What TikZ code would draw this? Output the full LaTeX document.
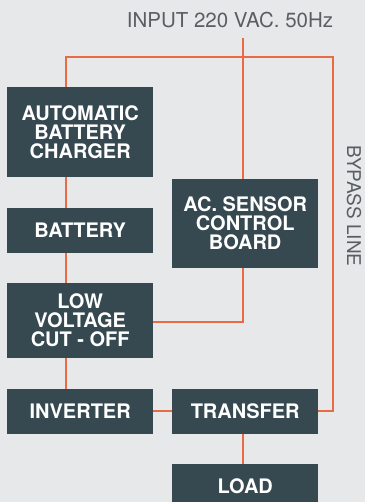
\documentclass[tikz,border=0pt]{standalone}
\usepackage{fontspec}
\setmainfont{TeX Gyre Heros}
\definecolor{bgc}{HTML}{E7E8EA}
\definecolor{boxc}{HTML}{364950}
\definecolor{linec}{HTML}{EA6A45}
\definecolor{txtc}{HTML}{5A5E62}
\begin{document}
\begin{tikzpicture}[x=1pt,y=-1pt,
  blk/.style={fill=boxc,text=white,font=\bfseries\fontsize{20}{19}\selectfont,
    align=center,inner sep=0pt,minimum width=146pt,anchor=north west},
  wire/.style={draw=linec,line width=1.4pt}]
\fill[bgc] (0,0) rectangle (365,502);
\useasboundingbox (0,0) rectangle (365,502);
\node[font=\fontsize{20.5}{20.5}\selectfont,text=txtc,anchor=base] (inp) at (230,28) {INPUT 220 VAC. 50Hz};
\node[blk,minimum height=90pt] (chg) at (7,87) {AUTOMATIC\\BATTERY\\CHARGER};
\node[blk,minimum height=45pt] (bat) at (7,208) {BATTERY};
\node[blk,minimum height=75pt] (lv) at (7,283) {LOW\\VOLTAGE\\CUT - OFF};
\node[blk,minimum height=45pt] (inv) at (7,389) {INVERTER};
\node[blk,minimum height=89pt] (acs) at (172,179) {AC. SENSOR\\CONTROL\\BOARD};
\node[blk,minimum height=45pt] (trf) at (172,389) {TRANSFER};
\node[blk,minimum height=45pt] (load) at (172,464) {LOAD};
\node[font=\fontsize{19}{19}\selectfont,text=txtc,rotate=-90] (byp) at (354,206) {BYPASS LINE};
\coordinate (tl) at (66,57);
\coordinate (tm) at (243,57);
\coordinate (tr) at (333,57);
\coordinate (br) at (333,411);
\coordinate (lm) at (243,322);
\draw[wire] (chg.north -| tl) -- (tl) -- (tr) -- (br) -- (trf.east |- br);
\draw[wire] (243,38) -- (acs.north -| tm);
\draw[wire] (chg.south -| tl) -- (bat.north -| tl);
\draw[wire] (bat.south -| tl) -- (lv.north -| tl);
\draw[wire] (lv.south -| tl) -- (inv.north -| tl);
\draw[wire] (acs.south -| lm) -- (lm) -- (lv.east |- lm);
\draw[wire] (inv.east |- br) -- (trf.west |- br);
\draw[wire] (trf.south -| tm) -- (load.north -| tm);
\end{tikzpicture}
\end{document}
